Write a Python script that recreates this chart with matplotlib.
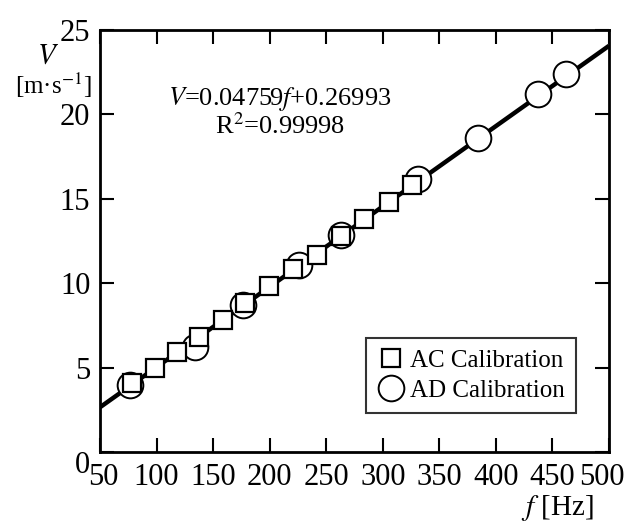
import matplotlib
matplotlib.use("Agg")
import matplotlib.pyplot as plt
import matplotlib.transforms as mtransforms
import numpy as np

plt.rcParams['font.family'] = ['Liberation Serif', 'DejaVu Serif']
plt.rcParams['mathtext.fontset'] = 'stix'

# AC calibration (squares)
ac_f = [78.0, 98.6, 117.8, 137.8, 158.5, 178.2, 199.7, 220.3, 241.5, 262.8, 283.4, 305.8, 325.6]
ac_v = [4.07, 4.96, 5.94, 6.80, 7.82, 8.81, 9.85, 10.82, 11.67, 12.80, 13.80, 14.79, 15.82]
# AD calibration (circles)
ad_f = [76.5, 134.0, 176.2, 226.2, 262.8, 331.4, 384.0, 437.0, 461.8]
ad_v = [3.97, 6.24, 8.71, 11.08, 12.86, 16.16, 18.62, 21.19, 22.38]
# fit
slope, intercept = 0.04759, 0.26993
fit_f = [50, 500]

x_ticks = [50, 100, 150, 200, 250, 300, 350, 400, 450, 500]
y_ticks = [0, 5, 10, 15, 20, 25]

fig = plt.figure(figsize=(6.26, 5.25), dpi=100)
ax = fig.add_axes([100/626, 1-452/525, 509/626, 422/525])

fv = [slope*f + intercept for f in fit_f]
ax.plot(fit_f, fv, color='black', lw=3.2, zorder=1, solid_capstyle='butt')
ax.plot(ad_f, ad_v, 'o', ms=18.5, mfc='white', mec='black', mew=1.4, zorder=2, ls='none',
        label='AD Calibration')
ax.plot(ac_f, ac_v, 's', ms=12.5, mfc='white', mec='black', mew=1.6, zorder=3, ls='none',
        label='AC Calibration')

ax.set_xlim(50, 500)
ax.set_ylim(0, 25)
ax.set_xticks(x_ticks)
ax.set_yticks(y_ticks)
ax.set_xticklabels([str(t) for t in x_ticks], fontsize=22)
ax.set_yticklabels([str(t) for t in y_ticks], fontsize=22)
ax.tick_params(direction='in', length=10, width=1.5, top=True, right=True)
ax.tick_params(axis='x', pad=8)
ax.tick_params(axis='y', pad=7)
for s in ax.spines.values():
    s.set_linewidth(2)

# small offsets of edge labels as in the reference
xl = ax.get_xticklabels()
xl[0].set_transform(xl[0].get_transform() + mtransforms.ScaledTranslation(3/100, 0, fig.dpi_scale_trans))
xl[-1].set_transform(xl[-1].get_transform() + mtransforms.ScaledTranslation(-7/100, 0, fig.dpi_scale_trans))
yl = ax.get_yticklabels()
yl[0].set_transform(yl[0].get_transform() + mtransforms.ScaledTranslation(0, -10/100, fig.dpi_scale_trans))

h, l = ax.get_legend_handles_labels()
leg = ax.legend([h[1], h[0]], [l[1], l[0]], loc='lower right', bbox_to_anchor=(0.935, 0.092),
                fontsize=18, frameon=True, fancybox=False, edgecolor='black',
                handletextpad=0.2, handlelength=1.1, borderpad=0.45, labelspacing=0.3,
                borderaxespad=0)
leg.get_frame().set_linewidth(1.5)

ax.text(0.354, 0.806, r'$\mathit{V}$=0.04759$\mathit{f}$+0.26993' + '\n' + r'R$^2$=0.99998',
        transform=ax.transAxes, ha='center', va='center', fontsize=19, linespacing=1.05)

fig.text(48/626, 1-56/525, r'$\mathit{V}$', ha='center', va='center', fontsize=21)
fig.text(53/626, 1-85/525, r'[m·s$^{-1}$]', ha='center', va='center', fontsize=18)
fig.text(557/626, 1-508/525, r'$\mathit{f}$ [Hz]', ha='center', va='center', fontsize=21)

fig.savefig('out.png', dpi=100)
